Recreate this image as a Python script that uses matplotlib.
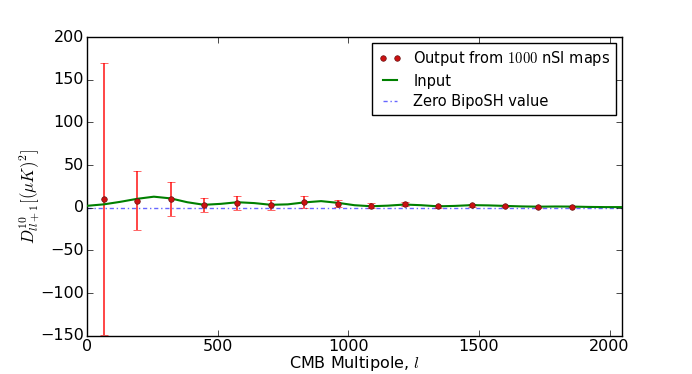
import numpy as np
import matplotlib
matplotlib.use("Agg")
import matplotlib.pyplot as plt

# multipoles of the binned estimates
l_out = [64, 192, 320, 448, 576, 704, 832, 960, 1088, 1216, 1344, 1472, 1600, 1728, 1856]
d_out = [10.5, 8.5, 10.5, 3.5, 5.6, 3.5, 6.5, 4.8, 2.2, 4.0, 1.6, 2.8, 2.1, 1.2, 1.5]
d_err = [159.5, 34.0, 20.0, 8.0, 8.5, 6.0, 7.2, 4.0, 3.0, 2.2, 1.5, 1.5, 1.2, 1.0, 1.0]

# input curve
l_in = [0, 64, 128, 192, 256, 320, 384, 448, 512, 576, 640, 704, 768, 832, 896,
        960, 1024, 1088, 1152, 1216, 1280, 1344, 1408, 1472, 1536, 1600, 1664,
        1728, 1792, 1856, 1920, 1984, 2048]
d_in = [2.3, 4.0, 7.0, 10.5, 13.0, 11.0, 6.5, 3.5, 4.6, 6.5, 5.5, 3.5, 4.0, 6.3, 7.8,
        5.8, 3.0, 1.8, 2.5, 3.8, 3.0, 1.7, 2.2, 3.1, 2.8, 2.2, 1.6,
        1.3, 1.5, 1.4, 1.0, 0.8, 0.8]

l_max = 2048

plt.style.use('classic')
plt.rcParams['font.size'] = 11.5
plt.rcParams['xtick.major.pad'] = 2
plt.rcParams['ytick.major.pad'] = 2

fig = plt.figure(figsize=(6.92, 3.74), dpi=100)
ax = fig.add_subplot(111)

ax.errorbar(l_out, d_out, yerr=d_err, fmt='none', ecolor='red', capsize=3,
            elinewidth=1.2, alpha=0.85, zorder=2)
ax.plot(l_out, d_out, 'o', color='#cc1111', markeredgecolor='#661111', markersize=4,
        label=r'Output from $1000$ nSI maps', zorder=4)
ax.plot(l_in, d_in, '-', color='green', lw=1.5, label='Input', zorder=3)
ax.plot([0, l_max], [0, 0], '-.', color='blue', lw=1, alpha=0.6,
        dashes=(3, 2, 1, 2), label='Zero BipoSH value', zorder=1)

ax.set_xlim(0, l_max)
ax.set_ylim(-150, 200)
ax.set_xlabel(r'CMB Multipole, $l$', labelpad=0)
ax.set_ylabel(r'$D^{10}_{ll+1}[(\mu K)^2]$', fontsize=12)
ax.yaxis.set_label_coords(-0.084, 0.465)

ax.legend(loc='upper right', numpoints=2, fontsize=10.5, handlelength=1.6,
          borderaxespad=0.4, labelspacing=0.4)

fig.subplots_adjust(left=0.1257, right=0.899, bottom=0.102, top=0.901)
fig.savefig('out.png', dpi=100)
